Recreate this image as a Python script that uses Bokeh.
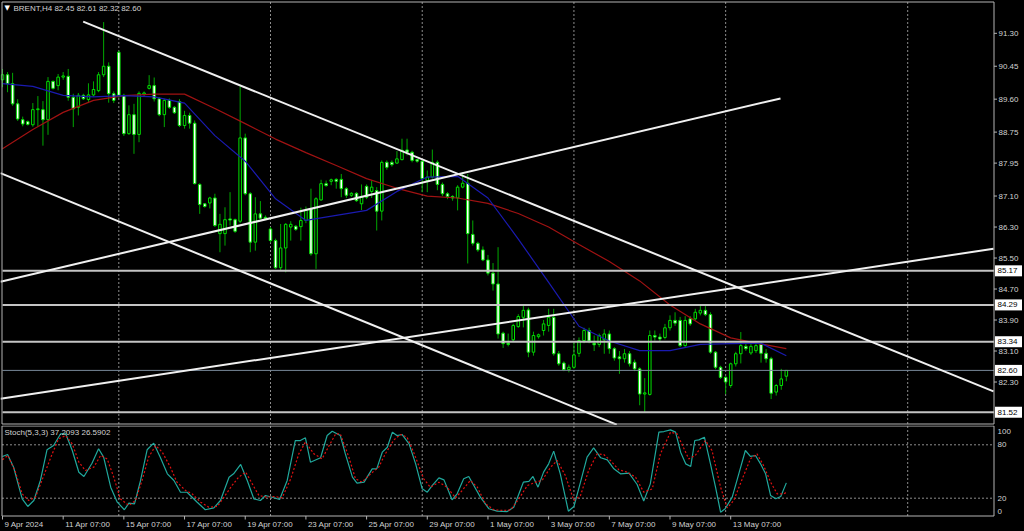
from bokeh.plotting import figure
from bokeh.layouts import column
from bokeh.models import Range1d, ColumnDataSource
from bokeh.core.properties import value
from bokeh.embed import file_html
from bokeh.resources import INLINE

# ---------------- data ----------------
O = [90.10, 90.23, 90.00, 89.48, 89.07, 89.02, 88.94, 89.33, 89.33, 89.07,
     90.06, 89.95, 90.17, 90.19, 89.65, 89.39, 89.70, 89.59, 89.71, 89.82,
     90.23, 90.45, 89.74, 90.81, 89.70, 88.71, 89.20, 88.69, 89.73, 89.88,
     89.95, 89.61, 89.20, 89.57, 89.39, 89.54, 88.92, 89.18, 88.98, 87.40,
     86.90, 86.92, 87.05, 86.13, 86.13, 86.51, 86.49, 86.45, 88.60, 87.16,
     85.91, 86.64, 86.55, 86.25, 85.95, 85.25, 85.76, 86.30, 86.32, 86.31,
     86.47, 86.77, 85.61, 87.00, 87.42, 87.48, 87.53, 87.53, 87.29, 87.12,
     87.17, 86.90, 87.35, 87.22, 87.24, 86.71, 87.97, 87.97, 87.95, 88.04,
     88.29, 88.23, 88.04, 88.00, 87.50, 87.59, 87.97, 87.40, 87.16, 87.09,
     87.05, 87.33, 87.43, 86.11, 85.88, 85.71, 85.45, 85.11, 84.83, 83.56,
     83.30, 83.39, 83.73, 83.97, 84.16, 83.07, 83.47, 83.63, 83.76, 83.97,
     83.03, 82.79, 82.62, 82.68, 83.04, 83.37, 83.63, 83.30, 83.27, 83.39,
     83.54, 83.16, 82.95, 82.90, 83.03, 82.81, 82.64, 81.99, 81.98, 83.50,
     83.46, 83.45, 83.70, 83.89, 83.89, 83.24, 83.93, 83.93, 84.08, 84.15,
     84.04, 83.07, 82.68, 82.42, 82.21, 82.77, 83.03, 83.22, 83.05, 83.11,
     83.27, 83.04, 82.90, 82.04, 82.21, 82.45]
H = [90.38, 90.30, 90.28, 89.60, 89.15, 89.05, 89.50, 89.68, 89.55, 90.17,
     90.08, 90.25, 90.30, 90.38, 89.74, 89.76, 89.74, 90.01, 90.06, 90.30,
     91.59, 90.55, 89.80, 90.85, 89.74, 89.44, 89.48, 89.80, 89.80, 90.22,
     90.16, 89.65, 89.61, 89.62, 89.42, 89.60, 89.30, 89.25, 89.05, 87.43,
     86.92, 87.08, 87.16, 86.64, 86.81, 87.20, 86.52, 89.93, 88.71, 87.20,
     87.07, 86.97, 86.60, 86.30, 86.00, 86.38, 86.40, 86.45, 86.35, 86.80,
     86.83, 87.29, 87.07, 87.52, 87.50, 87.55, 87.56, 87.67, 87.33, 87.20,
     87.20, 87.40, 87.40, 87.50, 87.33, 88.02, 88.02, 88.02, 88.26, 88.58,
     88.58, 88.27, 88.06, 88.05, 87.76, 88.30, 88.02, 87.45, 87.20, 87.12,
     87.38, 87.72, 87.67, 86.47, 85.92, 85.80, 85.58, 85.37, 85.78, 83.60,
     83.55, 83.80, 84.05, 84.27, 84.22, 83.60, 83.55, 83.90, 84.19, 84.19,
     83.10, 82.83, 82.75, 83.33, 83.45, 83.70, 83.70, 83.50, 83.55, 83.66,
     83.63, 83.20, 83.10, 83.15, 83.10, 82.88, 82.68, 82.40, 83.63, 83.63,
     83.55, 83.80, 84.02, 84.10, 83.98, 84.00, 84.00, 84.19, 84.28, 84.26,
     84.10, 83.10, 82.72, 82.45, 82.80, 83.08, 83.59, 83.30, 83.28, 83.30,
     83.33, 83.15, 82.95, 82.25, 82.64, 82.61]
L = [89.91, 89.78, 89.43, 89.04, 88.90, 88.92, 88.89, 88.90, 88.40, 88.68,
     89.85, 89.83, 90.10, 89.56, 88.88, 89.18, 89.58, 89.50, 89.67, 89.78,
     90.17, 89.51, 89.50, 89.63, 88.65, 88.68, 88.19, 88.49, 89.68, 89.85,
     89.54, 89.16, 88.88, 89.35, 89.22, 88.88, 88.84, 88.84, 87.40, 86.64,
     86.80, 86.78, 86.30, 85.65, 85.82, 86.34, 86.15, 86.40, 87.12, 85.65,
     85.69, 86.50, 86.48, 85.90, 85.22, 85.18, 85.13, 85.95, 86.20, 85.95,
     86.40, 85.56, 85.22, 86.98, 87.34, 87.38, 87.29, 87.07, 87.05, 87.08,
     86.95, 86.74, 87.02, 87.05, 86.21, 86.47, 87.78, 87.86, 87.93, 88.02,
     88.15, 87.97, 87.96, 87.20, 87.20, 87.55, 87.25, 87.10, 87.02, 86.98,
     86.73, 87.30, 85.36, 85.82, 85.66, 85.42, 85.05, 84.66, 83.42, 83.18,
     83.22, 83.35, 83.70, 83.71, 82.94, 82.98, 83.42, 83.50, 83.60, 82.98,
     82.72, 82.58, 82.55, 82.64, 82.95, 83.30, 83.30, 83.10, 83.20, 83.03,
     83.03, 82.85, 82.51, 82.80, 82.70, 82.58, 81.70, 81.52, 81.95, 83.37,
     83.35, 83.40, 83.63, 83.75, 83.20, 83.20, 83.75, 83.89, 84.02, 84.00,
     83.03, 82.63, 82.38, 81.99, 82.15, 82.70, 82.78, 83.10, 83.00, 83.05,
     82.80, 82.80, 81.86, 81.95, 82.10, 82.32]
C = [90.23, 90.00, 89.48, 89.09, 88.96, 88.95, 89.33, 89.35, 89.07, 90.06,
     89.88, 90.17, 90.20, 89.65, 89.35, 89.70, 89.61, 89.71, 89.85, 90.23,
     90.45, 89.74, 89.57, 89.70, 88.71, 89.20, 88.69, 89.75, 89.76, 89.95,
     89.61, 89.20, 89.57, 89.39, 89.25, 88.92, 89.18, 88.98, 87.42, 86.88,
     86.83, 87.05, 86.34, 86.37, 86.49, 86.48, 86.19, 88.60, 87.16, 85.91,
     86.64, 86.53, 86.52, 85.95, 85.25, 85.76, 86.37, 86.37, 86.24, 86.47,
     86.73, 85.61, 87.03, 87.42, 87.37, 87.52, 87.48, 87.29, 87.12, 87.17,
     86.98, 87.09, 87.07, 87.33, 86.71, 87.97, 87.84, 87.91, 88.06, 88.28,
     88.23, 88.02, 88.00, 87.55, 87.59, 87.97, 87.40, 87.16, 87.09, 87.05,
     87.33, 87.43, 86.13, 85.88, 85.71, 85.45, 85.11, 84.83, 83.54, 83.29,
     83.27, 83.76, 83.99, 84.15, 83.07, 83.50, 83.52, 83.80, 83.97, 83.03,
     82.77, 82.62, 82.68, 83.00, 83.37, 83.63, 83.36, 83.26, 83.50, 83.54,
     83.16, 82.92, 82.90, 83.03, 82.77, 82.64, 81.99, 82.02, 83.50, 83.46,
     83.41, 83.70, 83.89, 83.82, 83.24, 83.89, 83.80, 84.10, 84.15, 84.04,
     83.07, 82.68, 82.42, 82.30, 82.77, 83.03, 83.24, 83.16, 83.22, 83.24,
     83.04, 82.90, 82.01, 82.21, 82.38, 82.60]

ma_idx = [0, 6, 12, 18, 24, 30, 36, 42, 48, 54, 60, 66, 72, 78, 84, 90, 96,
          102, 108, 114, 120, 126, 132, 138, 144, 150, 155]
ma_fast = [90.00, 89.93, 89.70, 89.66, 89.69, 89.66, 89.50, 88.66, 88.00, 87.03,
           86.47, 86.60, 86.73, 87.22, 87.59, 87.61, 87.05, 85.99, 84.87, 83.74,
           83.36, 83.11, 83.11, 83.27, 83.29, 83.30, 82.98]
ma_slow = [88.32, 88.82, 89.26, 89.57, 89.69, 89.73, 89.73, 89.36, 88.97, 88.57,
           88.22, 87.89, 87.55, 87.30, 87.10, 87.05, 86.91, 86.65, 86.30, 85.85,
           85.41, 84.91, 84.29, 83.80, 83.44, 83.28, 83.16]

k_idx = [0, 1, 2.2, 3.9, 5, 6.2, 7.5, 8.8, 10.1, 11.5, 12.5, 13.8, 15.1, 16.1, 17.7,
         19, 20, 21.4, 22.7, 24.1, 25, 26.1, 27.3, 28.6, 29.9, 31.2, 32.6, 33.9, 35.2,
         36.5, 38.5, 40.1, 41.8, 43.1, 44.8, 45.7, 47.1, 48.4, 49.7, 51, 52, 53.3, 54.8,
         56.3, 57.9, 58.9, 59.9, 60.9, 62.9, 64.2, 65.2, 66.8, 67.8, 69.2, 70.1, 71.5,
         73.1, 74, 75.1, 76.1, 77.1, 78, 79, 80.4, 81.7, 83, 84, 85, 86.3, 87.3, 88.9,
         89.9, 91.2, 92.2, 93.2, 94.5, 96.2, 97.8, 99.8, 101.1, 103, 104.1, 104.9, 105.9,
         107, 108, 109, 110.3, 111.9, 113, 114.3, 115.6, 116.9, 118.3, 119.6, 120.9,
         122.2, 123.9, 125.5, 126.8, 128.1, 129.8, 130.8, 132.1, 133.1, 134.1, 135.1,
         136.1, 136.9, 137.7, 138.8, 140, 141, 142, 142.9, 144.3, 145.6, 146.9, 147.9,
         148.9, 149.9, 150.9, 151.9, 152.9, 153.9, 155]
k_val = [66.9, 69.1, 54.8, 19.3, 10.7, 17.4, 39.9, 74.4, 79.2, 92.4, 92.4, 73.6, 49.2,
         44.4, 59.3, 75.5, 66.1, 32.4, 15.5, 7.0, 14.4, 13.7, 39.9, 74.4, 81.8, 66.1,
         47.4, 39.9, 26.7, 26.7, 15.5, 7.0, 9.2, 17.4, 43.6, 47.4, 57.9, 39.9, 19.3,
         17.4, 23.0, 21.1, 18.5, 39.9, 84.8, 84.8, 87.9, 60.4, 65.4, 90.4, 95.3, 90.4,
         69.8, 43.6, 36.9, 38.0, 53.0, 53.0, 71.7, 77.3, 94.2, 90.4, 91.6, 81.1, 58.6,
         30.5, 26.8, 34.3, 42.9, 40.6, 18.2, 24.9, 41.8, 44.4, 34.3, 21.2, 8.1, 5.4,
         5.0, 9.9, 38.0, 38.8, 44.4, 32.4, 49.3, 58.6, 72.9, 47.4, 5.4, 10.7, 38.0,
         66.1, 76.6, 65.4, 63.1, 53.0, 47.4, 48.1, 35.4, 16.7, 36.1, 94.2, 94.9, 96.8,
         94.2, 71.7, 58.6, 55.6, 84.8, 85.5, 88.5, 58.6, 32.4, 4.3, 8.1, 21.2, 47.4,
         73.6, 66.9, 68.0, 58.6, 47.4, 23.0, 19.3, 21.9, 37.2]
d_idx = [0, 1.06, 2.57, 3.89, 5.2, 6.53, 8.17, 9.83, 11.1, 12.5, 13.8, 15.1, 16.4,
         18.06, 19.4, 20.7, 22, 23.3, 25, 26.3, 27.6, 28.9, 30.3, 31.6, 33.2, 34.5,
         36.2, 37.5, 39.2, 40.8, 42.5, 43.8, 45.4, 46.7, 48.1, 49.4, 50.7, 52.3, 53.7,
         55.3, 57, 58.6, 59.9, 61.6, 63.2, 64.5, 65.9, 66.8, 68.5, 69.8, 71.1, 72.8,
         74.4, 75.7, 77.4, 78.7, 80, 81.3, 83.3, 84.6, 86.3, 87.9, 89.6, 90.9, 92.5,
         93.9, 95.5, 97.2, 99.1, 100.5, 102.1, 103.8, 105.4, 106.7, 108.4, 109.7,
         111.3, 113, 114.3, 115.9, 117.6, 118.9, 120.2, 121.9, 123.5, 125.2, 126.8,
         128.5, 130.1, 132.1, 133.4, 135.7, 137, 139, 140.3, 142, 143.3, 144.6, 146.3,
         147.9, 149.2, 150.5, 151.9, 153.2, 154.5, 155]
d_val = [63.1, 68.0, 49.3, 24.9, 17.4, 21.2, 45.5, 69.8, 86.7, 90.4, 81.1, 60.5, 51.1,
         54.9, 68.0, 64.2, 43.6, 19.3, 11.8, 17.4, 39.9, 66.1, 79.2, 71.7, 54.9, 38.0,
         28.7, 24.9, 15.5, 9.9, 10.7, 21.2, 34.3, 43.6, 49.3, 36.1, 23.0, 21.2, 21.9,
         20.4, 41.8, 69.8, 83.0, 69.8, 64.2, 78.1, 92.3, 92.3, 66.1, 41.8, 38.0, 47.4,
         54.9, 69.8, 85.5, 91.6, 88.6, 71.7, 41.8, 32.4, 38.0, 32.4, 20.4, 28.7, 39.9,
         32.4, 13.7, 6.9, 6.2, 6.9, 19.3, 34.3, 38.0, 39.9, 54.9, 62.4, 45.5, 17.4,
         23.0, 51.1, 69.8, 69.1, 62.4, 51.9, 49.3, 43.6, 26.8, 30.5, 69.8, 94.2, 92.3,
         64.2, 68.0, 84.8, 73.6, 32.4, 9.2, 17.4, 41.8, 64.2, 69.8, 56.7, 38.0, 24.9,
         24.9, 26.6]

price_ticks = [91.30, 90.45, 89.60, 88.75, 87.95, 87.10, 86.30, 85.50, 84.70, 83.90, 83.10, 82.30]
level_prices = [85.17, 84.29, 83.34, 81.52]
bid_price = 82.60
tl_x0 = [15.96, -0.4, -0.4, -0.4]
tl_y0 = [91.60, 87.69, 84.89, 81.87]
tl_x1 = [195.97, 121.46, 153.85, 195.97]
tl_y1 = [82.06, 81.20, 89.62, 85.74]
grid_idx = [23, 53, 83, 113, 143, 179]
date_idx = [0, 12, 24, 36, 48, 60, 72, 84, 96, 108, 120, 132, 144]
date_labels = ["9 Apr 2024", "11 Apr 07:00", "15 Apr 07:00", "17 Apr 07:00", "19 Apr 07:00",
               "23 Apr 07:00", "25 Apr 07:00", "29 Apr 07:00", "1 May 07:00", "3 May 07:00",
               "7 May 07:00", "9 May 07:00", "13 May 07:00"]
stoch_ticks = [100, 80, 20, 0]
title_text = "BRENT,H4  82.45 82.61 82.32 82.60"
stoch_text = "Stoch(5,3,3) 37.2093 26.5902"

# ---------------- layout helpers (pixel -> data) ----------------
BAR = 5.057
def bx(px):            # canvas x pixel -> bar index
    return (px - 1.99) / BAR
PPX = 0.02581          # price per pixel
def py(px):            # canvas y pixel -> price (main panel)
    return 92.147 - PPX * px
def sy(px):            # canvas y pixel -> stochastic value (lower panel, absolute page y)
    return (515.5 - px) / 0.89

FONT = "Liberation Sans"
FS = value("8px")
BG = "black"
TXT = "#d2d2d2"
FRAME = "#b4b4b4"
GRID = "#8c8c8c"
XL, XR = bx(1.5), bx(993.5)

xr = Range1d(bx(0), bx(1024))

def base(h, yr):
    f = figure(width=1024, height=h, x_range=xr, y_range=yr, output_backend="svg",
               toolbar_location=None, x_axis_location=None, y_axis_location=None,
               min_border=0, background_fill_color=BG, border_fill_color=BG,
               outline_line_color=None)
    f.grid.visible = False
    return f

# ---------------- main panel ----------------
p = base(425, Range1d(py(425), py(0)))
PT, PB = py(1.5), py(423.5)

p.segment(x0=grid_idx, y0=[PB] * len(grid_idx), x1=grid_idx, y1=[PT] * len(grid_idx),
          line_color=GRID, line_dash="2 2", line_width=1)

idx = list(range(len(C)))
tops = [max(o, c) for o, c in zip(O, C)]
bots = [min(o, c) for o, c in zip(O, C)]
fills = ["black" if c > o else "white" for o, c in zip(O, C)]
src = ColumnDataSource(dict(i=idx, h=H, l=L, top=tops, bot=bots, fill=fills))
p.segment("i", "h", "i", "l", source=src, line_color="#00a800", line_width=1)
p.vbar(x="i", top="top", bottom="bot", width=0.5, fill_color="fill",
       line_color="#00e000", line_width=1, source=src)

p.line(ma_idx, ma_slow, line_color="#a01212", line_width=1.2)
p.line(ma_idx, ma_fast, line_color="#1a1ab0", line_width=1.2)

nl = len(level_prices)
p.segment(x0=[bx(2)] * nl, y0=level_prices, x1=[XR] * nl, y1=level_prices,
          line_color="#c4c4c4", line_width=2)
p.segment(x0=[bx(2)], y0=[bid_price], x1=[XR], y1=[bid_price], line_color="#778899", line_width=1)

p.segment(x0=tl_x0, y0=tl_y0, x1=tl_x1, y1=tl_y1, line_color="#f0f0f0", line_width=2)

# frame
p.segment(x0=[XL, XL, XL, XR], y0=[PT, PB, PB, PB], x1=[XR, XR, XL, XR], y1=[PT, PB, PT, PT],
          line_color=FRAME, line_width=1)

# right price scale
nt = len(price_ticks)
p.segment(x0=[XR] * nt, y0=price_ticks, x1=[bx(996.5)] * nt, y1=price_ticks,
          line_color=FRAME, line_width=1)
p.text(x=[bx(998)] * nt, y=price_ticks, text=["%.2f" % v for v in price_ticks],
       text_font=value(FONT), text_font_size=FS, text_color=TXT,
       text_baseline="middle", text_align="left")

boxes = level_prices + [bid_price]
nb = len(boxes)
p.rect(x=[bx(1008)] * nb, y=boxes, width=27 / BAR, height=11 * PPX,
       fill_color="white", line_color=None)
p.text(x=[bx(997)] * nb, y=boxes, text=["%.2f" % v for v in boxes],
       text_font=value(FONT), text_font_size=FS, text_color="black",
       text_baseline="middle", text_align="left")

p.text(x=[bx(4)], y=[py(7.5)], text=["\u25bc"], text_font=value("DejaVu Sans"),
       text_font_size=value("7px"), text_color="white", text_baseline="middle", text_align="left")
p.text(x=[bx(13)], y=[py(7.5)], text=[title_text], text_font=value(FONT), text_font_size=FS,
       text_color=TXT, text_baseline="middle", text_align="left")

# ---------------- stochastic panel ----------------
p2 = base(106, Range1d(sy(531), sy(425)))
ST, SB = sy(425.5), sy(515.5)

p2.segment(x0=grid_idx, y0=[SB] * len(grid_idx), x1=grid_idx, y1=[ST] * len(grid_idx),
           line_color=GRID, line_dash="2 2", line_width=1)
p2.segment(x0=[XL, XL], y0=[80, 20], x1=[XR, XR], y1=[80, 20],
           line_color=GRID, line_dash="2 2", line_width=1)

p2.line(k_idx, k_val, line_color="#20a89c", line_width=1.2)
p2.line(d_idx, d_val, line_color="#e01010", line_width=1.2, line_dash="2 2")

p2.segment(x0=[XL, XL, XL, XR], y0=[ST, SB, SB, SB], x1=[XR, XR, XL, XR], y1=[ST, SB, ST, ST],
           line_color=FRAME, line_width=1)

# stochastic scale (100 and 0 labels are drawn just inside the panel, as in the terminal)
stoch_label_y = [sy(431), 80, 20, sy(511)]
p2.text(x=[bx(997)] * 4, y=stoch_label_y, text=[str(v) for v in stoch_ticks],
        text_font=value(FONT), text_font_size=FS, text_color=TXT,
        text_baseline="middle", text_align="left")

p2.text(x=[bx(4)], y=[sy(432)], text=[stoch_text], text_font=value(FONT), text_font_size=FS,
        text_color=TXT, text_baseline="middle", text_align="left")

# time scale
nd = len(date_idx)
p2.segment(x0=date_idx, y0=[SB] * nd, x1=date_idx, y1=[sy(519)] * nd,
           line_color=FRAME, line_width=1)
p2.text(x=[d + 2 / BAR for d in date_idx], y=[sy(523.5)] * nd, text=date_labels,
        text_font=value(FONT), text_font_size=FS, text_color=TXT,
        text_baseline="middle", text_align="left")

layout = column(p, p2, spacing=0)
html = file_html(layout, INLINE)
html = html.replace("<head>", "<head><style>html,body{margin:0;padding:0;background:#000;}</style>", 1)
open("out.html", "w").write(html)
